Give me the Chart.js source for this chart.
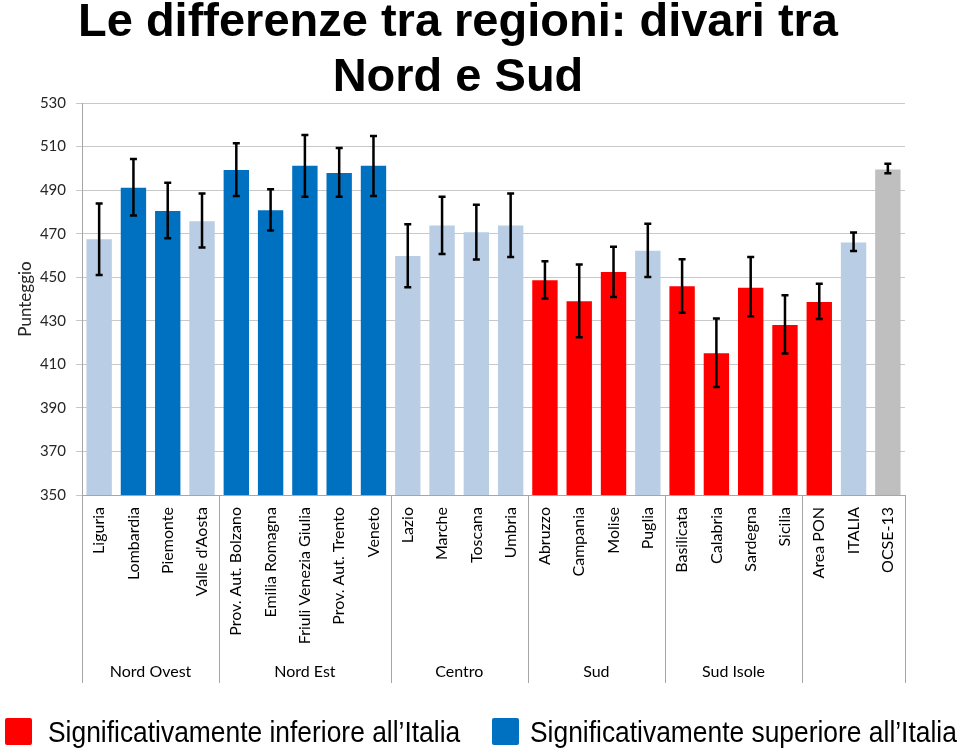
<!DOCTYPE html>
<html>
<head>
<meta charset="utf-8">
<script src="https://cdn.jsdelivr.net/npm/chart.js@4/dist/chart.umd.min.js"></script>
<style>
  body { margin: 0; background: #fff; }
  #wrap { position: relative; width: 960px; height: 750px; overflow: hidden; }
  #chart { position: absolute; left: 0; top: 0; }
  .title { position: absolute; left: 0; top: -8px; width: 916px; text-align: center;
           font: bold 47px 'Liberation Sans', Arial, sans-serif; line-height: 55px; color: #000; }
  .leg { position: absolute; top: 718px; width: 27px; height: 27px; border-radius: 2px; }
  .legtxt { position: absolute; top: 718px; font: 29px 'Liberation Sans', Arial, sans-serif;
            line-height: 29px; color: #000; white-space: nowrap; transform: scaleX(0.91); transform-origin: left; }
</style>
</head>
<body>
<div id="wrap">
  <canvas id="chart" width="960" height="750"></canvas>
  <div class="title">Le differenze tra regioni: divari tra<br>Nord e Sud</div>
  <div class="leg" style="left:5px;background:#ff0000"></div>
  <div class="legtxt" style="left:48px">Significativamente inferiore all’Italia</div>
  <div class="leg" style="left:492px;background:#0070c0"></div>
  <div class="legtxt" style="left:530px">Significativamente superiore all’Italia</div>
</div>
<script>
const regions = ['Liguria', 'Lombardia', 'Piemonte', "Valle d'Aosta", 'Prov. Aut. Bolzano', 'Emilia Romagna',
  'Friuli Venezia Giulia', 'Prov. Aut. Trento', 'Veneto', 'Lazio', 'Marche', 'Toscana', 'Umbria',
  'Abruzzo', 'Campania', 'Molise', 'Puglia', 'Basilicata', 'Calabria', 'Sardegna', 'Sicilia',
  'Area PON', 'ITALIA', 'OCSE-13'];
const groups = ['Nord Ovest', 'Nord Est', 'Centro', 'Sud', 'Sud Isole', ''];
const groupSizes = [4, 5, 4, 4, 4, 3];
const scores = [467.4, 491.1, 480.4, 475.7, 499.2, 480.7, 501.2, 497.9, 501.2, 459.8, 473.7, 470.6, 473.7,
  448.6, 439.0, 452.4, 462.2, 445.8, 415.1, 445.2, 428.1, 438.6, 466.0, 499.5];
const errLow = [451.0, 478.3, 467.9, 463.7, 487.3, 471.5, 487.0, 487.0, 487.3, 445.4, 460.7, 458.1, 459.3,
  440.2, 422.4, 440.9, 450.1, 433.7, 399.6, 432.1, 415.0, 430.8, 462.0, 497.7];
const errHigh = [483.9, 504.3, 493.4, 488.4, 511.5, 490.4, 515.3, 509.3, 514.9, 474.3, 487.0, 483.3, 488.4,
  457.3, 455.8, 464.0, 474.6, 458.2, 431.1, 459.3, 441.7, 447.0, 470.5, 502.1];
// ns = non significativo, sup = superiore, inf = inferiore, ref = OCSE
const status = ['ns', 'sup', 'sup', 'ns', 'sup', 'sup', 'sup', 'sup', 'sup', 'ns', 'ns', 'ns', 'ns',
  'inf', 'inf', 'inf', 'ns', 'inf', 'inf', 'inf', 'inf', 'inf', 'ns', 'ref'];
const yTicks = [350, 370, 390, 410, 430, 450, 470, 490, 510, 530];

const colori = { ns: '#b9cde5', sup: '#0070c0', inf: '#ff0000', ref: '#bfbfbf' };

Chart.defaults.font.family = 'Lato';
Chart.defaults.color = '#262626';

const errorBars = {
  id: 'errorBars',
  afterDatasetsDraw(chart) {
    const ctx = chart.ctx, y = chart.scales.y;
    const meta = chart.getDatasetMeta(0);
    ctx.save();
    ctx.strokeStyle = '#000';
    ctx.lineWidth = 2.5;
    meta.data.forEach((bar, i) => {
      const top = y.getPixelForValue(errHigh[i]), bot = y.getPixelForValue(errLow[i]);
      ctx.beginPath();
      ctx.moveTo(bar.x, top); ctx.lineTo(bar.x, bot);
      ctx.moveTo(bar.x - 3.5, top); ctx.lineTo(bar.x + 3.5, top);
      ctx.moveTo(bar.x - 3.5, bot); ctx.lineTo(bar.x + 3.5, bot);
      ctx.stroke();
    });
    ctx.restore();
  }
};

const groupAxis = {
  id: 'groupAxis',
  afterDraw(chart) {
    const ctx = chart.ctx, x = chart.scales.x;
    const step = x.getPixelForValue(1) - x.getPixelForValue(0);
    const top = chart.chartArea.bottom, bottom = x.bottom;
    ctx.save();
    ctx.strokeStyle = '#a6a6a6';
    ctx.lineWidth = 1;
    ctx.fillStyle = '#000';
    ctx.font = '16px Lato';
    ctx.textAlign = 'center';
    ctx.textBaseline = 'middle';
    let start = 0;
    const edge = i => Math.round(x.getPixelForValue(i) - step / 2) + 0.5;
    ctx.beginPath();
    ctx.moveTo(edge(0), top); ctx.lineTo(edge(0), bottom);
    groupSizes.forEach((n, g) => {
      const end = start + n;
      ctx.moveTo(edge(end), top); ctx.lineTo(edge(end), bottom);
      const cx = (x.getPixelForValue(start) + x.getPixelForValue(end - 1)) / 2;
      ctx.fillText(groups[g], cx, 672);
      start = end;
    });
    ctx.stroke();
    ctx.restore();
  }
};

new Chart(document.getElementById('chart'), {
  type: 'bar',
  data: {
    labels: regions,
    datasets: [{
      data: scores,
      backgroundColor: status.map(s => colori[s]),
      barPercentage: 0.74,
      categoryPercentage: 1
    }]
  },
  options: {
    responsive: false,
    animation: false,
    layout: { padding: { top: 103, right: 55, bottom: 67, left: 0 } },
    plugins: { legend: { display: false }, tooltip: { enabled: false } },
    scales: {
      x: {
        grid: { display: false, drawTicks: false },
        border: { color: '#a6a6a6' },
        ticks: { autoSkip: false, minRotation: 90, maxRotation: 90, padding: 12,
                 color: '#000', font: { size: 16 } },
        afterFit(scale) { scale.height = 188; }
      },
      y: {
        min: 350, max: 530,
        afterBuildTicks(scale) { scale.ticks = yTicks.map(v => ({ value: v })); },
        grid: { color: '#c8c8c8', tickLength: 6 },
        border: { color: '#a6a6a6' },
        ticks: { padding: 10, font: { size: 15 } },
        title: { display: true, text: 'Punteggio', font: { size: 17 }, color: '#262626',
                 padding: { top: 15, bottom: 0 } },
        afterFit(scale) { scale.width = 82; }
      }
    }
  },
  plugins: [errorBars, groupAxis]
});
</script>
</body>
</html>
